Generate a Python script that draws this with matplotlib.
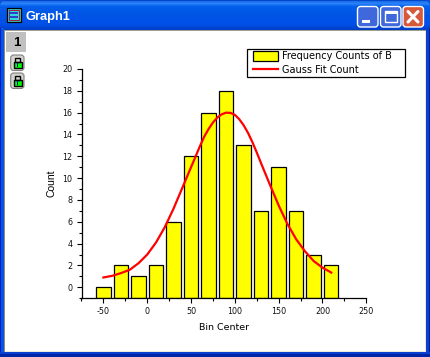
import numpy as np
import matplotlib
matplotlib.use("Agg")
import matplotlib.pyplot as plt
from matplotlib.patches import Rectangle, FancyBboxPatch, Polygon, Patch
from matplotlib.lines import Line2D
from matplotlib.ticker import MultipleLocator
from matplotlib.legend_handler import HandlerPatch, HandlerLine2D

plt.rcParams["axes.unicode_minus"] = False

bin_centers = [-50, -30, -10, 10, 30, 50, 70, 90, 110, 130, 150, 170, 190, 210]
counts = [0, 2, 1, 2, 6, 12, 16, 18, 13, 7, 11, 7, 3, 2]
fit_x = [-50, -40, -30, -20, -10, 0, 10, 20, 30, 40, 50, 60, 65, 70, 75, 80, 85, 90, 95, 100,
         105, 110, 115, 120, 125, 130, 140, 150, 160, 170, 180, 190, 200, 210]
fit_y = [0.9, 1.05, 1.3, 1.6, 2.2, 3.0, 4.1, 5.5, 7.2, 9.1, 11.0, 12.9, 13.8, 14.5, 15.1, 15.55, 15.85, 16.0, 15.98, 15.8,
         15.4, 14.85, 14.15, 13.3, 12.35, 11.35, 9.4, 7.5, 5.8, 4.4, 3.3, 2.4, 1.8, 1.35]
bar_label = "Frequency Counts of B"
fit_label = "Gauss Fit Count"
window_title = "Graph1"
x_label = "Bin Center"
y_label = "Count"

W, H = 430, 357
fig = plt.figure(figsize=(W / 100, H / 100), dpi=100, facecolor="white")

# ---------- window chrome (pixel coordinates) ----------
bg = fig.add_axes([0, 0, 1, 1], zorder=0)
bg.set_xlim(0, W)
bg.set_ylim(H, 0)
bg.axis("off")

bg.add_patch(Rectangle((0, 0), W, H, fc="#0a4fdc", ec="none"))
stops_y = [0, 1, 3, 6, 14, 24, 28, 30]
stops_r = [0, 30, 40, 4, 0, 0, 0, 0]
stops_g = [70, 110, 130, 95, 85, 80, 65, 60]
stops_b = [200, 235, 250, 235, 229, 232, 205, 190]
rows = np.arange(30)
grad = np.stack([np.interp(rows, stops_y, c) for c in (stops_r, stops_g, stops_b)], axis=1)[:, None, :] / 255
im = bg.imshow(grad, extent=(0, W, 30, 0), aspect="auto", interpolation="nearest", zorder=1)
clip = FancyBboxPatch((0, 0), W, 40, boxstyle="round,pad=0,rounding_size=7",
                      transform=bg.transData, fc="none", ec="none")
bg.add_patch(clip)
im.set_clip_path(clip)
bg.set_xlim(0, W)
bg.set_ylim(H, 0)
for pts in ([(0, 0), (5, 0), (0, 5)], [(W, 0), (W - 5, 0), (W, 5)]):
    bg.add_patch(Polygon(pts, fc="white", ec="none", zorder=0.5))
bg.add_patch(Rectangle((0, 28), 1, H, fc="#0019cf", ec="none", zorder=1.5))
bg.add_patch(Rectangle((1, 28), 3, H, fc="#0855dd", ec="none", zorder=1.5))
bg.add_patch(Rectangle((W - 1, 28), 1, H, fc="#001ea0", ec="none", zorder=1.5))
bg.add_patch(Rectangle((W - 4, 28), 3, H, fc="#0a3fd0", ec="none", zorder=1.5))
bg.add_patch(Rectangle((0, 352), W, 2, fc="#0a3fd0", ec="none", zorder=1.6))
bg.add_patch(Rectangle((0, 354), W, 3, fc="#0026a8", ec="none", zorder=1.6))
bg.add_patch(Rectangle((4, 30), 422, 322, fc="#ece9d8", ec="none", zorder=2))
bg.add_patch(Rectangle((4, 30), 1, 322, fc="#8a8a80", ec="none", zorder=2.1))
bg.add_patch(Rectangle((4, 30), 422, 1, fc="#a0a090", ec="none", zorder=2.1))
bg.add_patch(Rectangle((5, 31), 420, 320, fc="white", ec="none", zorder=2.2))
bg.add_patch(Rectangle((6, 32), 20, 20, fc="#c0c0c0", ec="none", zorder=3))
bg.text(16.5, 42.5, "1", fontsize=9.5, fontweight="bold", family="Liberation Sans",
        ha="center", va="center", zorder=4, color="black")
for top in (55, 73):
    bg.add_patch(FancyBboxPatch((10.7, top), 13.3, 15.5, boxstyle="round,pad=0,rounding_size=3",
                                fc="#d4d4cc", ec="#808080", lw=0.8, zorder=3))
    bg.add_patch(Rectangle((13.5, top + 6.5), 8, 6.5, fc="#00ff00", ec="black", lw=1.0, zorder=4))
    bg.add_patch(Rectangle((15.4, top + 2.8), 4.3, 3.7, fc="none", ec="black", lw=1.0, zorder=4))
    bg.add_patch(Rectangle((16.6, top + 8), 1.8, 3.5, fc="#0000c0", ec="none", zorder=5))
bg.add_patch(Rectangle((6.5, 8), 14, 14, fc="#40c8c8", ec="black", lw=0.9, zorder=3))
bg.add_patch(Rectangle((8.5, 10), 10, 10, fc="#30d8e0", ec="#a02040", lw=0.7, zorder=3.1))
bg.add_patch(Rectangle((9, 12), 9, 1.5, fc="#3040c0", ec="none", zorder=3.2))
bg.add_patch(Rectangle((9, 16), 9, 1.5, fc="#3040c0", ec="none", zorder=3.2))
bg.text(26, 17, window_title, color="white", fontsize=9.3, fontweight="bold",
        family="Liberation Sans", ha="left", va="center", zorder=4)
for x0, col in ((357.5, "#3f68dc"), (380.5, "#3f68dc"), (403, "#d8583a")):
    bg.add_patch(FancyBboxPatch((x0, 6.5), 20.5, 20.5, boxstyle="round,pad=0,rounding_size=3",
                                fc=col, ec="white", lw=1.0, zorder=3))
bg.add_patch(Rectangle((362, 20), 8, 3, fc="white", ec="none", zorder=4))
bg.add_patch(Rectangle((385, 11), 12, 11, fc="none", ec="white", lw=1.0, zorder=4))
bg.add_patch(Rectangle((385, 11), 12, 2.5, fc="white", ec="none", zorder=4))
bg.plot([408, 418], [11.5, 22], color="white", lw=2.2, zorder=4, solid_capstyle="round")
bg.plot([418, 408], [11.5, 22], color="white", lw=2.2, zorder=4, solid_capstyle="round")

# ---------- the graph ----------
L, R, T, B = 81.5, 366.3, 69.0, 298.2
ax = fig.add_axes([L / W, 1 - B / H, (R - L) / W, (B - T) / H], zorder=5)
ax.patch.set_alpha(0)
ax.set_xlim(-75, 250)
ax.set_ylim(-1, 20)
baseline = -1
bars = ax.bar(bin_centers, np.array(counts) - baseline, bottom=baseline, width=16.5,
              color="#ffff00", edgecolor="black", linewidth=0.9, zorder=2)
line, = ax.plot(fit_x, fit_y, color="#ff0000", lw=1.6, zorder=3)
for s in ("top", "right"):
    ax.spines[s].set_visible(False)
for s in ("left", "bottom"):
    ax.spines[s].set_linewidth(0.9)
ax.xaxis.set_major_locator(MultipleLocator(50))
ax.xaxis.set_minor_locator(MultipleLocator(25))
ax.yaxis.set_major_locator(MultipleLocator(2))
ax.yaxis.set_minor_locator(MultipleLocator(1))
ax.tick_params(which="major", length=3.6, width=0.8, labelsize=5.8, pad=3.0, labelcolor="#111111")
ax.tick_params(which="minor", length=2.2, width=0.8)
ax.set_xlabel(x_label, fontsize=6.8, labelpad=5)
ax.set_ylabel(y_label, fontsize=7.5, family="Liberation Sans", labelpad=4)

handles = [Patch(fc="#ffff00", ec="black", lw=0.9), Line2D([], [], color="#ff0000", lw=1.6)]
leg = ax.legend(handles, [bar_label, fit_label], loc="upper left",
                bbox_to_anchor=(247 / W, 1 - 77 / H, 158 / W, 28 / H), bbox_transform=fig.transFigure,
                mode="expand", fancybox=False, framealpha=1, edgecolor="black", fontsize=7,
                borderaxespad=0, borderpad=0.2, handlelength=3.0, handleheight=1.2,
                handletextpad=0.4, labelspacing=0.4, labelcolor="black",
                handler_map={Patch: HandlerPatch(xpad=0.45), Line2D: HandlerLine2D(xpad=0.45)})
leg.get_frame().set_linewidth(0.9)

fig.savefig("out.png", dpi=100)
